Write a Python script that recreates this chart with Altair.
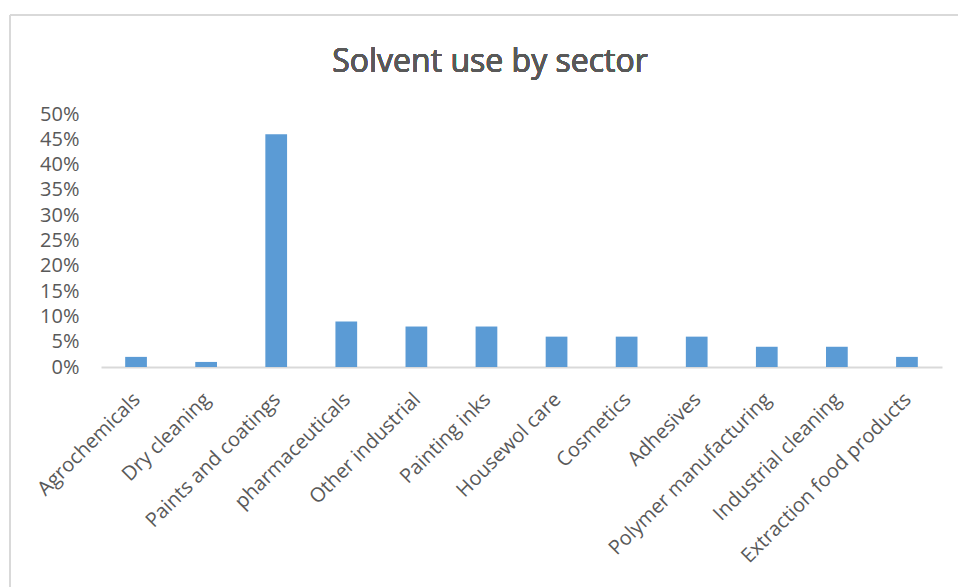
import altair as alt
import pandas as pd

sectors = ["Agrochemicals", "Dry cleaning", "Paints and coatings", "pharmaceuticals",
           "Other industrial", "Painting inks", "Housewol care", "Cosmetics",
           "Adhesives", "Polymer manufacturing", "Industrial cleaning",
           "Extraction food products"]
shares = [0.02, 0.01, 0.46, 0.09, 0.08, 0.08, 0.06, 0.06, 0.06, 0.04, 0.04, 0.02]
y_ticks = [0, 0.05, 0.10, 0.15, 0.20, 0.25, 0.30, 0.35, 0.40, 0.45, 0.50]
title_text = "Solvent use by sector"

df = pd.DataFrame({"sector": sectors, "share": shares})

FONT = "Open Sans"
TXT = "#595959"
LINE = "#D9D9D9"

bars = alt.Chart(df).mark_bar(color="#5B9BD5").encode(
    x=alt.X("sector:N", sort=sectors,
            scale=alt.Scale(paddingInner=0.69, paddingOuter=0.345),
            axis=alt.Axis(title=None, labelAngle=-45, labelFontSize=20, labelColor=TXT,
                          labelFont=FONT, ticks=False, domainColor=LINE, domainWidth=2,
                          labelPadding=22, labelOffset=-6, labelLimit=400)),
    y=alt.Y("share:Q", scale=alt.Scale(domain=[0, 0.5], nice=False),
            axis=alt.Axis(title=None, format=".0%", values=y_ticks, grid=False,
                          domain=False, ticks=False, labelFontSize=20, labelColor=TXT,
                          labelFont=FONT, labelPadding=22)),
)

frame_left = alt.Chart(df).mark_rule(color=LINE, strokeWidth=2).encode(
    x=alt.value(-91), y=alt.value(-99), y2=alt.value(473))
frame_top = alt.Chart(df).mark_rule(color=LINE, strokeWidth=2).encode(
    x=alt.value(-91), x2=alt.value(857), y=alt.value(-99))

title = alt.Chart(df).mark_text(font=FONT, fontSize=32, fontWeight="normal", color=TXT,
                                align="center", baseline="alphabetic").encode(
    x=alt.value(389), y=alt.value(-42), text=alt.value(title_text))

chart = alt.layer(frame_left, frame_top, title, bars).properties(
    width=841, height=253,
    background="white",
    autosize=alt.AutoSizeParams(type="none"),
    padding={"left": 101, "top": 114, "right": 16, "bottom": 220},
).configure_view(strokeWidth=0)

chart.save("out.html", embed_options={"renderer": "svg", "actions": False})
